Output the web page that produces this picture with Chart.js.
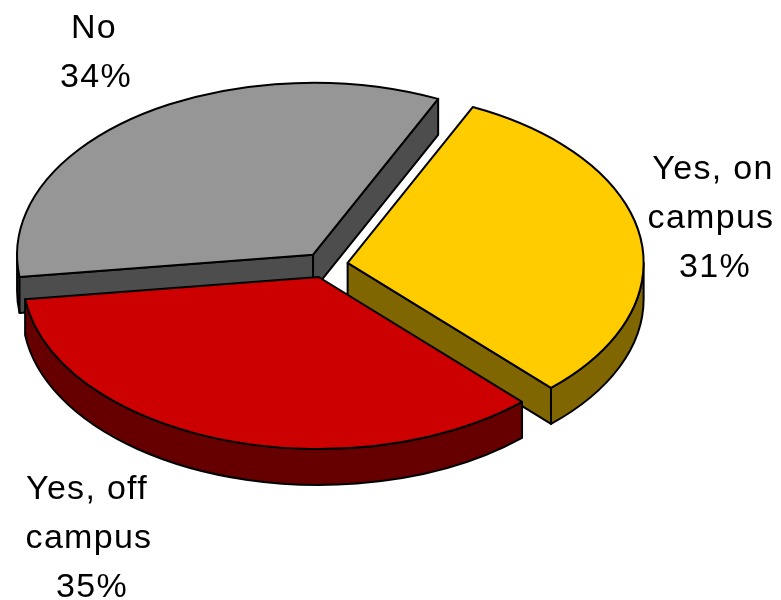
<!DOCTYPE html>
<html>
<head>
<meta charset="utf-8">
<style>
  html, body { margin: 0; padding: 0; background: #fff; }
  #wrap { width: 781px; height: 600px; }
</style>
<script src="https://cdn.jsdelivr.net/npm/chart.js@4"></script>
</head>
<body>
<div id="wrap"><canvas id="pie" width="781" height="600"></canvas></div>
<script>
// data
const categories = ['Yes, on campus', 'Yes, off campus', 'No'];
const values = [31, 35, 34];
const topColors = ['#ffcc00', '#cc0000', '#969696'];
const sideColors = ['#806600', '#660000', '#4d4d4d'];
const labelLines = [['Yes, on', 'campus', '31%'], ['Yes, off', 'campus', '35%'], ['No', '34%']];
const labelX = [[713, 711, 715], [87, 89, 92], [94, 96]];
const labelY = [170, 490, 29];

// the tilted disc on the page
const tilt = { x: 326, y: 265, rx: 296, ry: 172, depth: 36, explode: 0.074 };

const pie3d = {
    id: 'pie3d',
    beforeDatasetsDraw(chart) {
        const ctx = chart.ctx;
        const arcs = chart.getDatasetMeta(0).data;
        // back slices first so the front ones cover them
        const order = arcs.map((arc, i) => {
            const mid = (arc.startAngle + arc.endAngle) / 2;
            const cx = tilt.x + Math.cos(mid) * tilt.explode * tilt.rx;
            const cy = tilt.y + Math.sin(mid) * tilt.explode * tilt.ry;
            return { arc, i, cx, cy };
        }).sort((a, b) => a.cy - b.cy);

        ctx.save();
        ctx.lineWidth = 2;
        ctx.lineJoin = 'round';
        ctx.strokeStyle = '#000';
        order.forEach(({ arc, i, cx, cy }) => drawSlice(ctx, arc.startAngle, arc.endAngle, cx, cy, i));
        ctx.restore();
        return false;
    },
    afterDraw(chart) {
        const ctx = chart.ctx;
        ctx.save();
        ctx.fillStyle = '#000';
        ctx.font = '34px "Liberation Sans", Arial, sans-serif';
        ctx.letterSpacing = '1.3px';
        ctx.textAlign = 'center';
        ctx.textBaseline = 'middle';
        labelLines.forEach((lines, i) => {
            lines.forEach((line, n) => {
                ctx.fillText(line, labelX[i][n], labelY[i] + n * 49);
            });
        });
        ctx.restore();
    }
};

function rimPoint(cx, cy, a, drop) {
    return [cx + Math.cos(a) * tilt.rx, cy + Math.sin(a) * tilt.ry + drop];
}

function drawWall(ctx, cx, cy, a) {
    const p = rimPoint(cx, cy, a, 0);
    ctx.beginPath();
    ctx.moveTo(cx, cy);
    ctx.lineTo(p[0], p[1]);
    ctx.lineTo(p[0], p[1] + tilt.depth);
    ctx.lineTo(cx, cy + tilt.depth);
    ctx.closePath();
    ctx.fill();
    ctx.stroke();
}

function drawRim(ctx, cx, cy, a, b) {
    const TWO_PI = Math.PI * 2;
    // the part of the rim facing the viewer is where sin > 0
    for (let k = -1; k <= 1; k++) {
        const from = Math.max(a, k * TWO_PI);
        const to = Math.min(b, k * TWO_PI + Math.PI);
        if (to <= from) continue;
        ctx.beginPath();
        ctx.ellipse(cx, cy, tilt.rx, tilt.ry, 0, from, to);
        ctx.ellipse(cx, cy + tilt.depth, tilt.rx, tilt.ry, 0, to, from, true);
        ctx.closePath();
        ctx.fill();
        ctx.stroke();
    }
}

function drawSlice(ctx, a, b, cx, cy, i) {
    ctx.fillStyle = sideColors[i];
    drawRim(ctx, cx, cy, a, b);
    if (Math.sin(a - Math.PI / 2) > 0) drawWall(ctx, cx, cy, a);
    if (Math.sin(b + Math.PI / 2) > 0) drawWall(ctx, cx, cy, b);

    ctx.fillStyle = topColors[i];
    ctx.beginPath();
    ctx.moveTo(cx, cy);
    ctx.ellipse(cx, cy, tilt.rx, tilt.ry, 0, a, b);
    ctx.closePath();
    ctx.fill();
    ctx.stroke();
}

new Chart(document.getElementById('pie'), {
    type: 'pie',
    data: {
        labels: categories,
        datasets: [{ data: values, backgroundColor: topColors }]
    },
    options: {
        responsive: false,
        animation: false,
        rotation: 25,
        plugins: {
            legend: { display: false },
            tooltip: { enabled: false }
        }
    },
    plugins: [pie3d]
});
</script>
</body>
</html>
